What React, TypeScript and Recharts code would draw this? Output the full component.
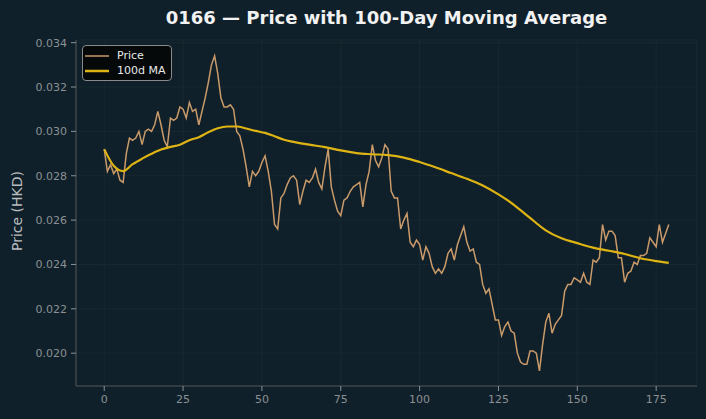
import { LineChart, Line, XAxis, YAxis, CartesianGrid } from "recharts";

// daily close, index 0..179
const PRICE = [
  0.0292, 0.0282, 0.0285, 0.0281, 0.0283, 0.0278, 0.0277, 0.029, 0.0297, 0.0296,
  0.0297, 0.03, 0.0294, 0.03, 0.0301, 0.03, 0.0303, 0.0309, 0.0303, 0.0296,
  0.0293, 0.0306, 0.0305, 0.0306, 0.0311, 0.031, 0.0306, 0.0313, 0.0309, 0.031,
  0.0303, 0.0309, 0.0315, 0.0322, 0.033, 0.0334, 0.0326, 0.0315, 0.0311, 0.0311,
  0.0312, 0.031, 0.03, 0.0298, 0.0292, 0.0284, 0.0275, 0.0282, 0.028, 0.0282,
  0.0286, 0.0289, 0.0282, 0.0273, 0.0258, 0.0256, 0.027, 0.0272, 0.0276, 0.0279,
  0.028, 0.0278, 0.0267, 0.0273, 0.0278, 0.0277, 0.0279, 0.0283, 0.0277, 0.0274,
  0.0284, 0.0292, 0.0275, 0.0269, 0.0264, 0.0262, 0.0269, 0.027, 0.0273, 0.0275,
  0.0276, 0.0277, 0.0266, 0.0276, 0.0282, 0.0294, 0.0287, 0.0284, 0.0288, 0.0294,
  0.0292, 0.0273, 0.027, 0.027, 0.0256, 0.026, 0.0263, 0.025, 0.0248, 0.0251,
  0.0249, 0.0242, 0.0248, 0.0245, 0.0239, 0.0236, 0.0238, 0.0236, 0.0239, 0.0245,
  0.0247, 0.0242, 0.0249, 0.0253, 0.0257, 0.025, 0.0246, 0.0247, 0.0241, 0.024,
  0.0231, 0.0227, 0.0229, 0.0222, 0.0215, 0.0215, 0.0208, 0.0212, 0.0214, 0.021,
  0.0209, 0.02, 0.0196, 0.0195, 0.0195, 0.0201, 0.0201, 0.02, 0.0192, 0.0204,
  0.0214, 0.0218, 0.0209, 0.0213, 0.0215, 0.0217, 0.0228, 0.0231, 0.0231, 0.0234,
  0.0233, 0.0232, 0.0236, 0.0232, 0.0231, 0.0242, 0.0241, 0.0243, 0.0258, 0.0251,
  0.0255, 0.0255, 0.0253, 0.0243, 0.0243, 0.0232, 0.0236, 0.0237, 0.0241, 0.024,
  0.0244, 0.0244, 0.0245, 0.0252, 0.025, 0.0248, 0.0258, 0.025, 0.0254, 0.0258,
];

const MA_DAYS = [
  0, 3, 6, 9, 12, 15, 18, 21, 24, 27, 30, 33, 36, 39, 42, 45, 48, 51, 54, 57,
  60, 65, 70, 75, 80, 85, 90, 95, 100, 105, 110, 115, 120, 125, 130, 135, 140,
  145, 150, 155, 160, 165, 170, 175, 179,
];
const MA_VALUES = [
  0.0292, 0.02845, 0.02821, 0.02852, 0.02877, 0.02899, 0.02918, 0.0293, 0.0294,
  0.0296, 0.02974, 0.02996, 0.03014, 0.03022, 0.03022, 0.03013, 0.03002, 0.02993,
  0.02978, 0.02962, 0.02953, 0.0294, 0.02929, 0.02914, 0.02902, 0.02897, 0.02893,
  0.02882, 0.02862, 0.02838, 0.02812, 0.02786, 0.02756, 0.02716, 0.02668, 0.0261,
  0.02554, 0.02518, 0.02496, 0.02476, 0.02462, 0.02447, 0.02428, 0.02415, 0.02407,
];

const X_TICKS = [0, 25, 50, 75, 100, 125, 150, 175];
const Y_TICKS = [0.02, 0.022, 0.024, 0.026, 0.028, 0.03, 0.032, 0.034];

const BG = "#10202a";
const PRICE_COLOR = "#c99a6a";
const MA_COLOR = "#deb414";
const FONT = "'DejaVu Sans', sans-serif";

const data = PRICE.map((p, i) => {
  const k = MA_DAYS.indexOf(i);
  return { day: i, price: p, ma: k >= 0 ? MA_VALUES[k] : null };
});

function LegendBox() {
  const rows = [
    { name: "Price", color: PRICE_COLOR, w: 1.5 },
    { name: "100d MA", color: MA_COLOR, w: 2.5 },
  ];
  return (
    <div
      style={{
        position: "absolute",
        left: 82,
        top: 45,
        zIndex: 2,
        background: "#050909",
        border: "1px solid #8a8a8a",
        borderRadius: 4,
        padding: "2px 5px 2px 2px",
        fontSize: 11,
        color: "#e8e8e8",
      }}
    >
      {rows.map((r) => (
        <div key={r.name} style={{ display: "flex", alignItems: "center", height: 15 }}>
          <svg width={24} height={10} style={{ marginRight: 8, flexShrink: 0 }}>
            <line x1={0} x2={24} y1={5} y2={5} stroke={r.color} strokeWidth={r.w} />
          </svg>
          <span style={{ whiteSpace: "nowrap" }}>{r.name}</span>
        </div>
      ))}
    </div>
  );
}

export default function App() {
  return (
    <div
      style={{
        position: "absolute",
        left: 0,
        top: 0,
        width: 706,
        height: 419,
        background: BG,
        fontFamily: FONT,
      }}
    >
      <div
        style={{
          position: "absolute",
          left: 76,
          width: 621,
          top: 7,
          textAlign: "center",
          color: "#f2f2f2",
          fontWeight: "bold",
          fontSize: 18,
          whiteSpace: "nowrap",
        }}
      >
        0166 — Price with 100-Day Moving Average
      </div>
      <LegendBox />
      <LineChart
        width={706}
        height={419}
        data={data}
        margin={{ top: 40, right: 9, bottom: 0, left: 0 }}
      >
        <CartesianGrid stroke="#1b2b32" strokeWidth={0.8} horizontal vertical />
        <XAxis
          type="number"
          dataKey="day"
          domain={[-8.95, 187.95]}
          ticks={X_TICKS}
          interval={0}
          allowDataOverflow
          height={33}
          stroke="#4f5558"
          tickSize={5}
          tickMargin={4}
          tick={{ fill: "#8b9094", fontSize: 11, fontFamily: FONT }}
          tickLine={{ stroke: "#8b9094" }}
        />
        <YAxis
          type="number"
          domain={[0.01852, 0.03412]}
          ticks={Y_TICKS}
          interval={0}
          allowDataOverflow
          width={76}
          stroke="#4f5558"
          tickSize={5}
          tickMargin={4}
          tickFormatter={(v: number) => v.toFixed(3)}
          tick={{ fill: "#8b9094", fontSize: 11, fontFamily: FONT }}
          tickLine={{ stroke: "#8b9094" }}
          label={() => (
            <text
              x={17}
              y={211}
              transform="rotate(-90 17 211)"
              textAnchor="middle"
              dominantBaseline="central"
              fill="#b8bcbf"
              fontSize={14}
              fontFamily={FONT}
            >
              Price (HKD)
            </text>
          )}
        />
        <Line
          type="linear"
          dataKey="price"
          name="Price"
          stroke={PRICE_COLOR}
          strokeWidth={1.5}
          dot={false}
          isAnimationActive={false}
        />
        <Line
          type="monotone"
          dataKey="ma"
          name="100d MA"
          stroke={MA_COLOR}
          strokeWidth={2.2}
          dot={false}
          connectNulls
          isAnimationActive={false}
        />
      </LineChart>
    </div>
  );
}
